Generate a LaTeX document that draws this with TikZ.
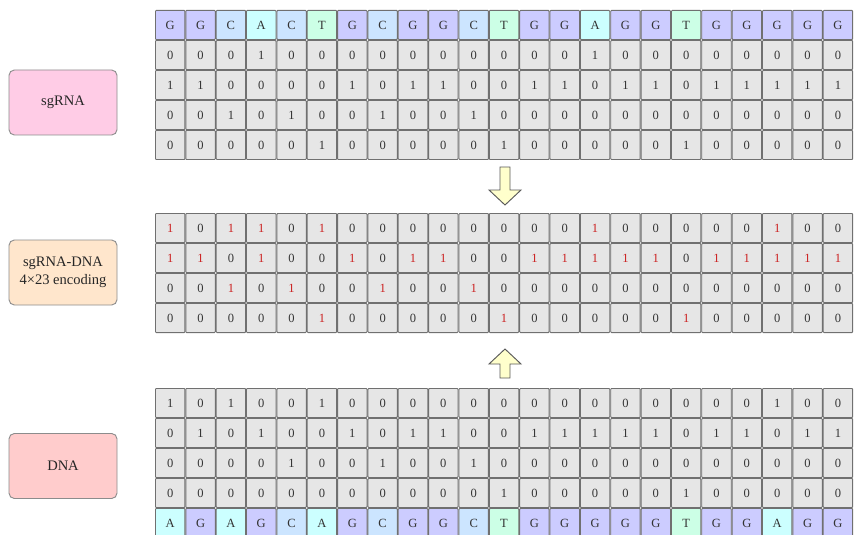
\documentclass[tikz,border=0pt]{standalone}
\usepackage{fontspec}
\setmainfont{Liberation Serif}
\usepackage{tikz}
\usetikzlibrary{positioning}
\usepackage{xcolor}

\definecolor{baseA}{HTML}{CCFFFF}
\definecolor{baseC}{HTML}{CCE5FF}
\definecolor{baseG}{HTML}{CCCCFF}
\definecolor{baseT}{HTML}{CCFFE6}
\definecolor{cellgray}{HTML}{E6E6E6}
\definecolor{cellline}{HTML}{707070}
\definecolor{sgpink}{HTML}{FFCCE6}
\definecolor{pairpeach}{HTML}{FFE6CC}
\definecolor{dnared}{HTML}{FFCCCC}
\definecolor{boxline}{HTML}{8C8C8C}
\definecolor{arrowfill}{HTML}{FFFFCC}
\definecolor{hitred}{HTML}{CC2222}

\newcommand{\hitbit}[1]{\ifnum#1=1\relax\textcolor{hitred}{1}\else 0\fi}

\begin{document}
\begin{tikzpicture}[x=0.75pt, y=-0.75pt, thick,
    cell/.style={draw=cellline, line width=0.7pt, fill=cellgray, rounded corners=0.6pt,
      minimum width=22.1pt, minimum height=21.8pt, inner sep=0pt, text=black!80,
      font=\fontsize{9.4}{11}\selectfont},
    tagbox/.style={draw=boxline, line width=0.7pt, rounded corners=4pt,
      minimum width=81pt, minimum height=48.75pt, text=black!85, align=center,
      font=\fontsize{10.9}{13.5}\selectfont},
    blockarrow/.style={draw=black!65, line width=0.7pt, fill=arrowfill}]
        \useasboundingbox (0,0) rectangle (854,535);

        % sgRNA sequence
        \foreach \b [count=\i from 0] in {G,G,C,A,C,T,G,C,G,G,C,T,G,G,A,G,G,T,G,G,G,G,G}
            \node[cell, fill=base\b] (sg-\i) at ({170.2+30.35*\i}, 25) {\b};

        % sgRNA one-hot (A, G, C, T)
        \foreach \row [count=\r] in {
            {0,0,0,1,0,0,0,0,0,0,0,0,0,0,1,0,0,0,0,0,0,0,0},
            {1,1,0,0,0,0,1,0,1,1,0,0,1,1,0,1,1,0,1,1,1,1,1},
            {0,0,1,0,1,0,0,1,0,0,1,0,0,0,0,0,0,0,0,0,0,0,0},
            {0,0,0,0,0,1,0,0,0,0,0,1,0,0,0,0,0,1,0,0,0,0,0}}
            \foreach \v [count=\i from 0] in \row
                \node[cell] (sg-\r-\i) at ({170.2+30.35*\i}, {25+30*\r}) {\v};

        % pair encoding
        \foreach \row [count=\r] in {
            {1,0,1,1,0,1,0,0,0,0,0,0,0,0,1,0,0,0,0,0,1,0,0},
            {1,1,0,1,0,0,1,0,1,1,0,0,1,1,1,1,1,0,1,1,1,1,1},
            {0,0,1,0,1,0,0,1,0,0,1,0,0,0,0,0,0,0,0,0,0,0,0},
            {0,0,0,0,0,1,0,0,0,0,0,1,0,0,0,0,0,1,0,0,0,0,0}}
            \foreach \v [count=\i from 0] in \row
                \node[cell] (pair-\r-\i) at ({170.2+30.35*\i}, {198+30*\r}) {\hitbit{\v}};

        % DNA one-hot (A, G, C, T)
        \foreach \row [count=\r] in {
            {1,0,1,0,0,1,0,0,0,0,0,0,0,0,0,0,0,0,0,0,1,0,0},
            {0,1,0,1,0,0,1,0,1,1,0,0,1,1,1,1,1,0,1,1,0,1,1},
            {0,0,0,0,1,0,0,1,0,0,1,0,0,0,0,0,0,0,0,0,0,0,0},
            {0,0,0,0,0,0,0,0,0,0,0,1,0,0,0,0,0,1,0,0,0,0,0}}
            \foreach \v [count=\i from 0] in \row
                \node[cell] (dna-\r-\i) at ({170.2+30.35*\i}, {373+30*\r}) {\v};

        % DNA sequence
        \foreach \b [count=\i from 0] in {A,G,A,G,C,A,G,C,G,G,C,T,G,G,G,G,G,T,G,G,A,G,G}
            \node[cell, fill=base\b] (dna-\i) at ({170.2+30.35*\i}, 523) {\b};

        % labels
        \node[tagbox, fill=sgpink] (sgrna) at (63,102.5) {sgRNA};
        \node[tagbox, fill=pairpeach] (pair) at (63,272.5) {sgRNA-DNA\\4×23 encoding};
        \node[tagbox, fill=dnared] (dna) at (63,466) {DNA};

        % arrows
        \draw[blockarrow] (500,167) -- (510,167) -- (510,190) -- (521,190) -- (505,205)
            -- (489,190) -- (500,190) -- cycle;
        \draw[blockarrow] (505,349) -- (521,364) -- (510,364) -- (510,378) -- (500,378)
            -- (500,364) -- (489,364) -- cycle;
    \end{tikzpicture}
\end{document}
